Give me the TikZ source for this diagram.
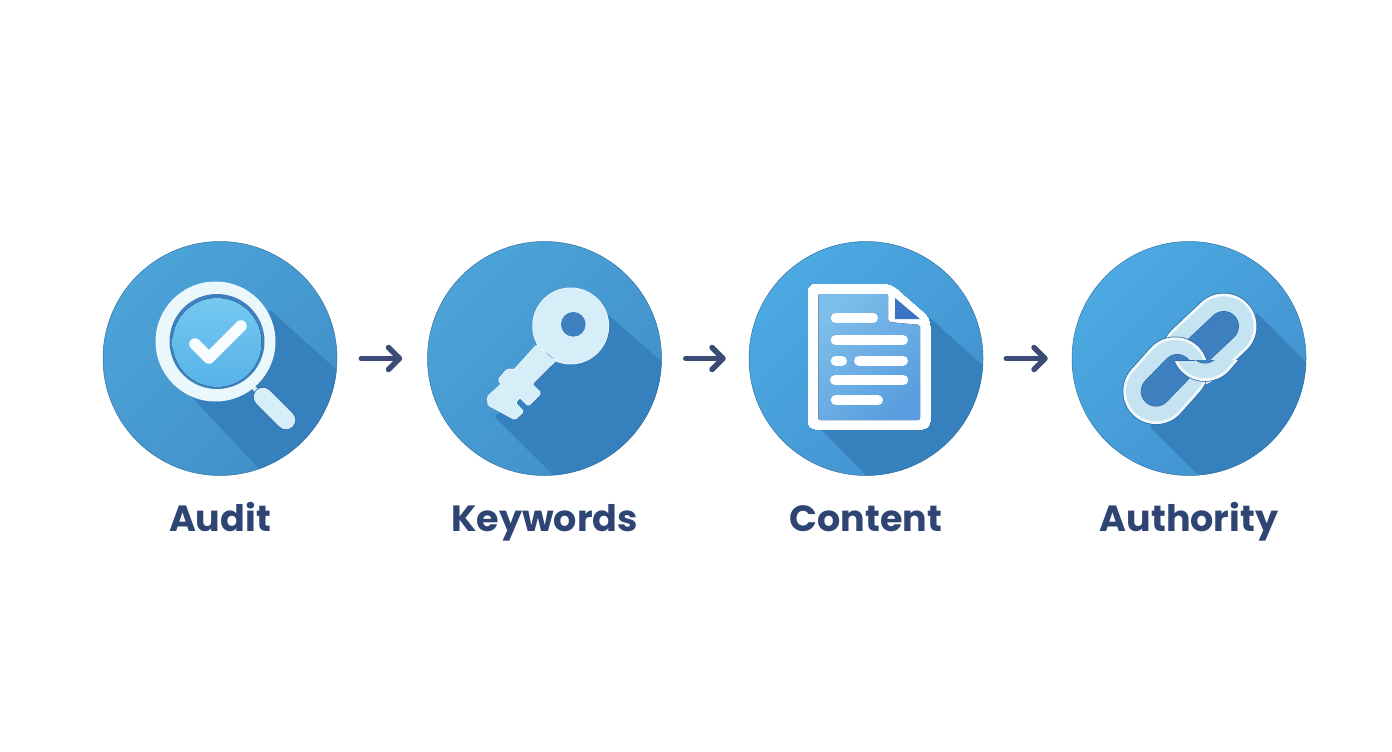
\documentclass[tikz,border=0pt]{standalone}
\usepackage{fontspec}
\setmainfont{Poppins}[BoldFont=Poppins Bold]
\usetikzlibrary{arrows.meta}
\usetikzlibrary{positioning}
\definecolor{inkblue}{HTML}{2E4472}
\definecolor{arrowblue}{HTML}{3B4B76}
\definecolor{discA}{HTML}{4CA3D8}
\definecolor{discB}{HTML}{4190C9}
\definecolor{discC}{HTML}{4CA9E1}
\definecolor{discD}{HTML}{4292CE}
\definecolor{shadeblue}{HTML}{3680BD}
\definecolor{iconlight}{HTML}{D5EEF8}
\definecolor{iconedge}{HTML}{2F6CA6}
\definecolor{holeblue}{HTML}{3D7FBF}
\definecolor{lensA}{HTML}{74C8F0}
\definecolor{lensB}{HTML}{58B2E8}
\definecolor{pageA}{HTML}{7DBDEA}
\definecolor{pageB}{HTML}{5A9EDF}
\definecolor{foldblue}{HTML}{3B74C2}
\tikzset{
  stage/.style={circle,minimum size=234pt,inner sep=0pt,draw=#1!80!black,line width=.5pt},
  stageA/.style={stage=discB,left color=discA,right color=discB,shading angle=45},
  stageB/.style={stage=discD,left color=discC,right color=discD,shading angle=45},
  caption/.style={inner sep=0pt,text=inkblue,font=\fontsize{36.5}{36.5}\selectfont\bfseries,text height=28pt,text depth=8pt},
  flow/.style={->,arrowblue,line width=5.5pt,line cap=round},
  textline/.style={white!96!iconlight,line width=10pt,line cap=round}
}
\newcommand{\chainlink}[2]{
  \draw [iconedge,line width=67pt,line cap=round] (#1) -- (#2);
  \draw [white!70!iconlight,line width=65.5pt,line cap=round] (#1) -- (#2);
  \draw [iconlight!90!holeblue,line width=60pt,line cap=round] (#1) -- (#2);
}
\newcommand{\keypath}{
  (536.7,345) -- (514.3,370) -- (507.3,369.3) -- (498.3,380) -- (501.7,384) -- (487.7,396.7) -- (488.3,405)
  -- (515,419.3) -- (523.3,411.7) -- (515,402.7) -- (520,397.3) -- (528.3,405.7) -- (540.7,393.3) -- (531.7,384) -- (556.7,359.3) -- cycle
  (570.7,326) circle (37.7)
}
\begin{document}
\begin{tikzpicture}[x=1pt,y=-1pt,node distance=27.5pt,>={Straight Barb[length=11pt,width=22pt,round]}]
\useasboundingbox [fill=white] (0,0) rectangle (1392,752);
% discs
\node [stageA,path picture={\fill [shadeblue] (50,-48.5) -- (150,41.5) -- (70,143.5) -- (-30,36.5) -- cycle;}] (audit) at (220,358.5) {};
\node [stageA,path picture={\fill [shadeblue] (60.5,-46.5) -- (160.5,41.5) -- (75.5,183.5) -- (-49.5,58.5) -- cycle;}] (keywords) at (544.5,358.5) {};
\node [stageB,path picture={\fill [shadeblue] (64,-40.5) -- (164,49.5) -- (34,151.5) -- (-46,69.5) -- cycle;}] (content) at (866,358.5) {};
\node [stageB,path picture={\fill [shadeblue] (68,-45.5) -- (161,48.5) -- (51,158.5) -- (-39,68.5) -- cycle;}] (authority) at (1189,358.5) {};
% captions
\node [caption,below=of audit] (auditname) {Audit};
\node [caption,below=of keywords] (keywordsname) {Keywords};
\node [caption,below=of content] (contentname) {Content};
\node [caption,below=of authority] (authorityname) {Authority};
% arrows
\draw [flow,shorten <=24pt,shorten >=25pt] (audit.east) -- (keywords.west);
\draw [flow,shorten <=24pt,shorten >=23pt] (keywords.east) -- (content.west);
\draw [flow,shorten <=23pt,shorten >=24pt] (content.east) -- (authority.west);
% lens
\draw [line width=6pt,iconedge] (250,384) -- (262,396);
\draw [line width=4.5pt,iconlight] (250,384) -- (262,396);
\draw [line width=20pt,line cap=round,iconedge] (263,397) -- (286,420);
\draw [line width=18.5pt,line cap=round,iconlight] (263,397) -- (286,420);
\fill [white!50!iconlight] (215.5,341.5) circle (60);
\fill [holeblue] (217,341.5) circle (47.5);
\fill [top color=lensA,bottom color=lensB] (217,342.5) circle (44.5);
\draw [white!85!iconlight,line width=11.5pt,line cap=round,line join=round] (195,344) -- (209,358) -- (241,326);
% key
\fill [iconedge,shift={(1,1)},rounded corners=1.5pt] \keypath;
\draw [white!60!iconlight,line width=1.5pt,rounded corners=1.5pt] \keypath;
\fill [iconlight,rounded corners=1.5pt] \keypath;
\fill [holeblue] (573.3,324.3) circle (12.3);
% page
\draw [white!96!iconlight,fill=white!96!iconlight,line width=0pt,rounded corners=8pt] (808,284) -- (891,284) -- (930,318) -- (930,429) -- (808,429) -- cycle;
\fill [left color=pageA,right color=pageB,shading angle=45,rounded corners=2pt] (818.3,294) -- (888,294) -- (888,322) -- (920,325) -- (920,420) -- (818.3,420) -- cycle;
\fill [foldblue] (895,298) -- (895,319) -- (920,319) -- cycle;
\draw [textline] (835.7,318) -- (873,318);
\draw [textline] (835.7,340.3) -- (903,340.3);
\draw [textline] (835.7,360.7) -- (842,360.7);
\draw [textline] (859,360.7) -- (903,360.7);
\draw [textline] (835,380.3) -- (903.3,380.3);
\draw [textline] (835.7,400.3) -- (878,400.3);
% chain
\chainlink{1223.7,326.3}{1195,353.3}
\draw [iconedge,line width=30.5pt,line cap=round] (1223.7,326.3) -- (1195,353.3);
\draw [holeblue,line width=29.4pt,line cap=round] (1223.7,326.3) -- (1195,353.3);
\chainlink{1156,391.3}{1175,370}
\draw [iconedge,line width=30.5pt,line cap=round] (1156,391.3) -- (1177.3,369.3);
\draw [holeblue,line width=29.4pt,line cap=round] (1156,391.3) -- (1177.3,369.3);
\begin{scope}
\clip (1170,360) rectangle (1280,410);
\chainlink{1223.7,326.3}{1205,348.3}
\draw [iconedge,line width=30.5pt,line cap=round] (1223.7,326.3) -- (1205,348.3);
\draw [holeblue,line width=29.4pt,line cap=round] (1223.7,326.3) -- (1205,348.3);
\end{scope}
\draw [iconedge,line width=.8pt] (1174,360) -- (1195,360);
\end{tikzpicture}
\end{document}
